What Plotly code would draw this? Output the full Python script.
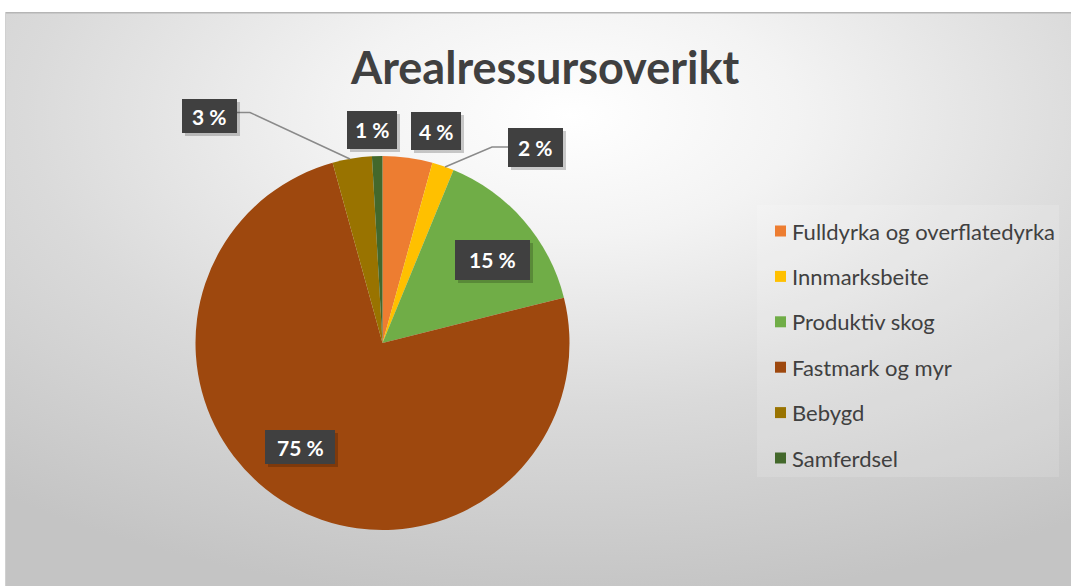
import base64
import plotly.graph_objects as go

# ---------------- data ----------------
categories = ["Fulldyrka og overflatedyrka", "Innmarksbeite", "Produktiv skog",
              "Fastmark og myr", "Bebygd", "Samferdsel"]
shares = [4.3, 1.9, 14.9, 74.6, 3.4, 0.9]
colors = ["#ED7D31", "#FFC000", "#70AD47", "#9E480E", "#997300", "#43682B"]
title_text = "Arealressursoverikt"

W, H = 1071, 586


def px(x):
    return x / W


def py(y):
    return 1 - y / H


# pie geometry (pixels)
cx, cy, r = 382.5, 343, 187

fig = go.Figure()
fig.add_trace(go.Pie(
    labels=categories,
    values=shares,
    sort=False,
    direction="clockwise",
    rotation=0,
    marker=dict(colors=colors, line=dict(width=0)),
    textinfo="none",
    hoverinfo="label+percent",
    showlegend=False,
    domain=dict(x=[px(cx - r), px(cx + r)], y=[py(cy + r), py(cy - r)]),
))

# background: radial gradient
svg = f'''<svg xmlns="http://www.w3.org/2000/svg" width="{W-5}" height="{H-12}">
<defs><radialGradient id="g" cx="0.53" cy="0.18" r="0.85" fx="0.53" fy="0.18">
<stop offset="0" stop-color="#ffffff"/>
<stop offset="0.25" stop-color="#f3f3f3"/>
<stop offset="0.6" stop-color="#dadada"/>
<stop offset="1" stop-color="#c4c4c4"/>
</radialGradient></defs>
<rect width="100%" height="100%" fill="url(#g)"/>
<line x1="0" y1="0.5" x2="{W}" y2="0.5" stroke="#b5b5b5" stroke-width="2"/>
<line x1="0.5" y1="0" x2="0.5" y2="{H}" stroke="#d0d0d0" stroke-width="1"/>
</svg>'''
src = "data:image/svg+xml;base64," + base64.b64encode(svg.encode()).decode()

images = [dict(source=src, xref="paper", yref="paper", x=px(5), y=py(12),
               sizex=(W - 5) / W, sizey=(H - 12) / H, xanchor="left", yanchor="top",
               sizing="stretch", layer="below")]

shapes = []
annotations = []

# title
annotations.append(dict(text=f"<b>{title_text}</b>", x=px(544), y=py(67), xref="paper", yref="paper",
                        showarrow=False, xanchor="center", yanchor="middle",
                        font=dict(family="Lato", size=45, color="#404040")))

# leader lines
shapes.append(dict(type="path", xref="paper", yref="paper",
                   path=f"M {px(237)} {py(112.5)} L {px(250)} {py(112.5)} L {px(350)} {py(159)}",
                   line=dict(color="#8a8a8a", width=1.5)))
shapes.append(dict(type="path", xref="paper", yref="paper",
                   path=f"M {px(508)} {py(147)} L {px(492)} {py(147)} L {px(445)} {py(167)}",
                   line=dict(color="#8a8a8a", width=1.5)))

# data label boxes (pixel center x, center y, width, height)
label_box = [(436, 131, 50, 38), (535.5, 147.5, 55, 39), (492.5, 260, 75, 40),
             (300, 447, 70, 34), (209.5, 116, 55, 34), (372, 130, 50, 38)]
for v, (lx, ly, bw, bh) in zip(shares, label_box):
    # shadow
    shapes.append(dict(type="rect", xref="paper", yref="paper",
                       x0=px(lx - bw / 2 + 3), x1=px(lx + bw / 2 + 3),
                       y0=py(ly + bh / 2 + 3), y1=py(ly - bh / 2 + 3),
                       fillcolor="rgba(0,0,0,0.2)", line=dict(width=0)))
    shapes.append(dict(type="rect", xref="paper", yref="paper",
                       x0=px(lx - bw / 2), x1=px(lx + bw / 2),
                       y0=py(ly + bh / 2), y1=py(ly - bh / 2),
                       fillcolor="#404040", line=dict(width=0)))
    annotations.append(dict(text=f"<b>{round(v)} %</b>", x=px(lx), y=py(ly), xref="paper", yref="paper",
                            showarrow=False, xanchor="center", yanchor="middle",
                            font=dict(family="Lato", size=21, color="#ffffff")))

# legend panel
shapes.append(dict(type="rect", xref="paper", yref="paper", x0=px(757), x1=px(1059),
                   y0=py(477), y1=py(205), fillcolor="rgba(255,255,255,0.14)",
                   line=dict(width=0), layer="below"))
leg_y0, leg_dy = 231, 45.4
for i, (name, col) in enumerate(zip(categories, colors)):
    yy = leg_y0 + i * leg_dy
    shapes.append(dict(type="rect", xref="paper", yref="paper",
                       x0=px(775), x1=px(786), y0=py(yy + 5.5), y1=py(yy - 5.5),
                       fillcolor=col, line=dict(width=0)))
    annotations.append(dict(text=name, x=px(790), y=py(yy), xref="paper", yref="paper",
                            showarrow=False, xanchor="left", yanchor="middle",
                            font=dict(family="Lato", size=22, color="#404040")))

fig.update_layout(
    width=W, height=H,
    margin=dict(l=0, r=0, t=0, b=0),
    paper_bgcolor="#ffffff",
    plot_bgcolor="rgba(0,0,0,0)",
    images=images,
    shapes=shapes,
    annotations=annotations,
    showlegend=False,
)

fig.write_html("out.html", config={"displayModeBar": False},
               post_script="document.body.style.margin='0';")
